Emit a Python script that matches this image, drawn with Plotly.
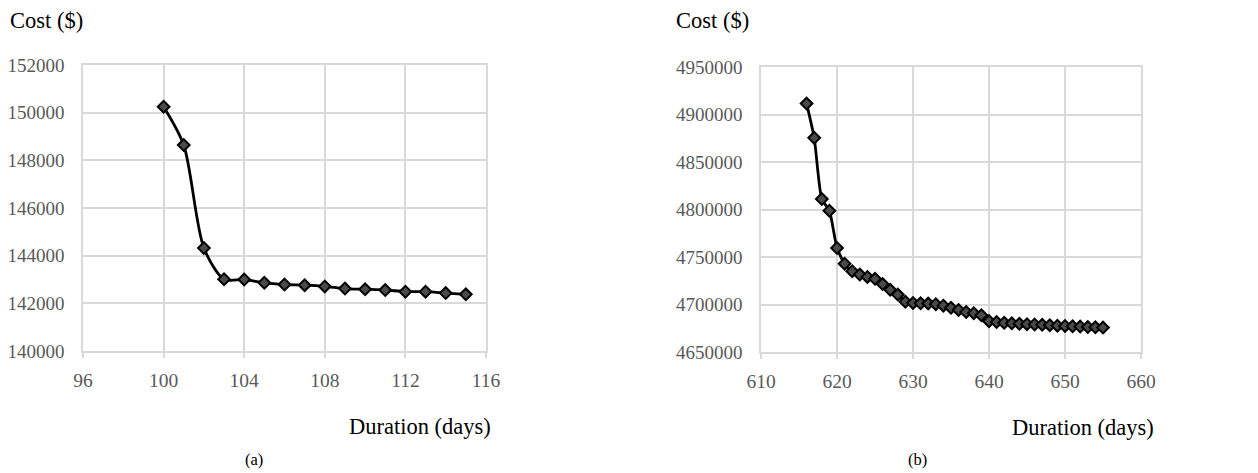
import plotly.graph_objects as go

# ---- data ----
dur_a = list(range(100, 116))
cost_a = [150250, 148640, 144320, 143010, 143000, 142860, 142790, 142760,
          142710, 142620, 142590, 142560, 142490, 142490, 142430, 142380]

dur_b = list(range(616, 656))
cost_b = [4911500, 4875400, 4811000, 4798700, 4759500, 4743000, 4735000, 4731500,
          4729000, 4727000, 4721500, 4715500, 4710500, 4703000, 4701500, 4701200,
          4701000, 4700300, 4698800, 4696500, 4694300, 4692000, 4690800, 4688700,
          4682500, 4681500, 4680800, 4680200, 4679700, 4679300, 4679000, 4678600,
          4678200, 4677700, 4677400, 4677100, 4676800, 4676300, 4676000, 4675700]

xticks_a = [96, 100, 104, 108, 112, 116]
yticks_a = [140000, 142000, 144000, 146000, 148000, 150000, 152000]
xticks_b = [610, 620, 630, 640, 650, 660]
yticks_b = [4650000, 4700000, 4750000, 4800000, 4850000, 4900000, 4950000]

FONT = "Liberation Serif"
GRID = "#d9d9d9"
TICKC = "#595959"
OFF = 8                      # page body margin
W, H = 1258 - OFF, 473 - OFF

def px(x):
    return (x - OFF) / W

def py(y):
    return 1 - (y - OFF) / H

fig = go.Figure()
marker = dict(symbol="diamond", size=9, color="#4a4a4a", line=dict(color="black", width=2))
fig.add_trace(go.Scatter(x=dur_a, y=cost_a, mode="lines+markers",
                         line=dict(color="black", width=2.8, shape="spline", smoothing=0.8),
                         marker=marker, xaxis="x", yaxis="y", showlegend=False))
fig.add_trace(go.Scatter(x=dur_b, y=cost_b, mode="lines+markers",
                         line=dict(color="black", width=2.8, shape="spline", smoothing=0.6),
                         marker=marker, xaxis="x2", yaxis="y2", showlegend=False))

def xa(dom, ticks, anchor):
    return dict(domain=dom, range=[ticks[0], ticks[-1]], tickvals=ticks,
                automargin=False,
                showgrid=True, gridcolor=GRID, gridwidth=1.5, zeroline=False,
                showline=True, linecolor=GRID, linewidth=1.5, mirror=True,
                ticks="outside", ticklen=5, tickcolor=GRID, tickwidth=1.5,
                ticklabelstandoff=6,
                tickfont=dict(family=FONT, size=19.5, color=TICKC), anchor=anchor)

def ya(dom, ticks, anchor):
    return dict(domain=dom, range=[ticks[0], ticks[-1]], tickvals=ticks,
                tickformat="d", automargin=False,
                showgrid=True, gridcolor=GRID, gridwidth=1.5, zeroline=False,
                showline=True, linecolor=GRID, linewidth=1.5, mirror=True,
                ticks="", ticklabelstandoff=13,
                tickfont=dict(family=FONT, size=19, color=TICKC), anchor=anchor)

fig.update_layout(
    width=W, height=H,
    margin=dict(l=0, r=0, t=0, b=0, autoexpand=False),
    paper_bgcolor="white", plot_bgcolor="white",
    xaxis=xa([px(83), px(486)], xticks_a, "y"),
    yaxis=ya([py(351), py(65)], yticks_a, "x"),
    xaxis2=xa([px(761), px(1141)], xticks_b, "y2"),
    yaxis2=ya([py(352), py(67)], yticks_b, "x2"),
)

def txt(x, y, s, size=22.5, xanchor="left"):
    fig.add_annotation(x=px(x), y=py(y), xref="paper", yref="paper", text=s,
                       showarrow=False, xanchor=xanchor, yanchor="middle",
                       font=dict(family=FONT, size=size, color="black"))

txt(8, 21, "Cost ($)")
txt(674, 21, "Cost ($)")
txt(347, 426, "Duration (days)")
txt(1010, 427, "Duration (days)")
txt(254, 459, "(a)", size=16.5, xanchor="center")
txt(917, 459, "(b)", size=16.5, xanchor="center")

fig.write_html("out.html")
